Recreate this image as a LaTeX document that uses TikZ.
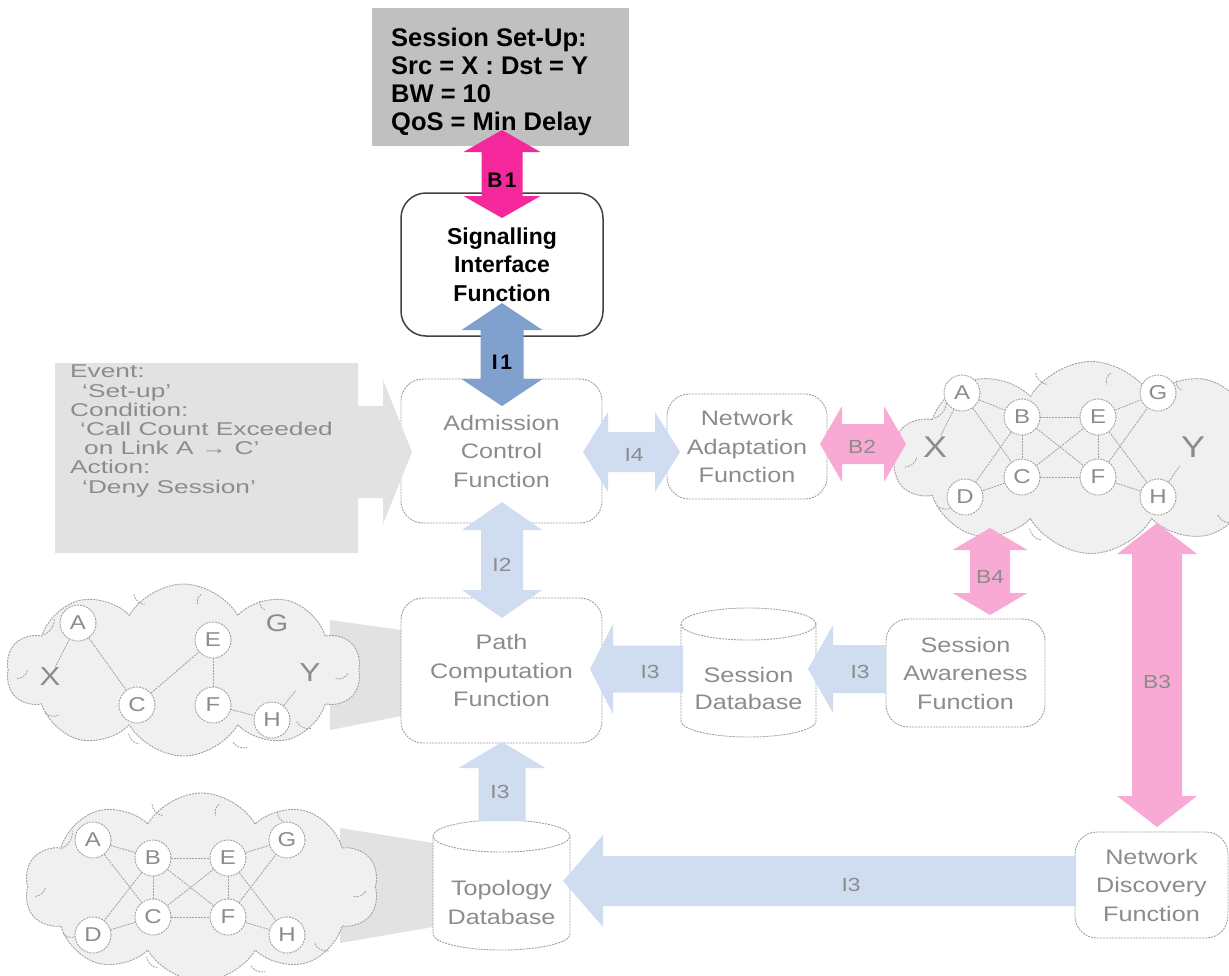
\documentclass[tikz,border=0pt]{standalone}
\usepackage{fontspec}
\setmainfont{Liberation Sans}
\newfontfamily\fadedfont{Liberation Sans}[FakeStretch=1.2]
\newfontfamily\eventfont{Liberation Sans}[FakeStretch=1.42]
\usetikzlibrary{shapes.symbols,calc}

\definecolor{hotpink}{RGB}{245,40,155}
\definecolor{palepink}{RGB}{248,170,212}
\definecolor{steel}{RGB}{128,160,205}
\definecolor{paleblue}{RGB}{208,220,240}
\definecolor{paleg}{RGB}{226,226,226}
\definecolor{cloudg}{RGB}{240,240,240}
\definecolor{fadetext}{RGB}{140,140,140}
\definecolor{fadeline}{RGB}{160,160,160}
\definecolor{boxgrey}{RGB}{192,192,192}

% block arrows (y axis points down): style, tip/end coordinates, shaft half width, head half width, head length
\newcommand\vdbl[6]{\fill[#1] (#2) -- ++({#5},{#6}) -- ++({#4-#5},0) -- ($(#3)+({#4},{-#6})$) -- ++({#5-#4},0) -- (#3) -- ++({-#5},{-#6}) -- ++({#5-#4},0) -- ($(#2)+({-#4},{#6})$) -- ++({#4-#5},0) -- cycle;}
\newcommand\hdbl[6]{\fill[#1] (#2) -- ++({#6},{-#5}) -- ++(0,{#5-#4}) -- ($(#3)+({-#6},{-#4})$) -- ++(0,{#4-#5}) -- (#3) -- ++({-#6},{#5}) -- ++(0,{#4-#5}) -- ($(#2)+({#6},{#4})$) -- ++(0,{#5-#4}) -- cycle;}
\newcommand\lsingle[6]{\fill[#1] (#2) -- ++({#6},{-#5}) -- ++(0,{#5-#4}) -- ($(#3)+(0,{-#4})$) -- ($(#3)+(0,{#4})$) -- ($(#2)+({#6},{#4})$) -- ++(0,{#5-#4}) -- cycle;}
\newcommand\usingle[6]{\fill[#1] (#2) -- ++({#5},{#6}) -- ++({#4-#5},0) -- ($(#3)+({#4},0)$) -- ($(#3)+({-#4},0)$) -- ($(#2)+({-#4},{#6})$) -- ++({#4-#5},0) -- cycle;}
% database drum: x1, x2, top, bottom, x radius
\newcommand\drum[5]{%
  \filldraw[dbline] ({#1},{#3+16}) -- ({#1},{#4-16}) .. controls ({#1},{#4-7.2}) and ({(#1+#2)/2-0.5523*#5},{#4}) .. ({(#1+#2)/2},{#4}) .. controls ({(#1+#2)/2+0.5523*#5},{#4}) and ({#2},{#4-7.2}) .. ({#2},{#4-16}) -- ({#2},{#3+16}) -- cycle;
  \filldraw[dbline] ({(#1+#2)/2},{#3+16}) ellipse [x radius=#5pt, y radius=16pt];}
% small fold strokes inside a cloud: node name, half width, half height
\newcommand\cloudfolds[3]{%
  \foreach \ax/\ay/\bx/\by in {-0.79/-0.41/-0.73/-0.60, -0.28/-0.88/-0.22/-0.76, 0.10/-0.88/0.08/-0.76,
      0.43/-0.80/0.46/-0.70, 0.86/0.10/0.93/0.04, 0.64/0.60/0.72/0.68, 0.28/0.84/0.36/0.90,
      -0.31/0.74/-0.25/0.86, -0.94/0.10/-0.88/0.0, -0.78/0.50/-0.70/0.52}
    \draw[cedge] ($(#1)+({\ax*#2},{\ay*#3})$) to[bend right=35] ($(#1)+({\bx*#2},{\by*#3})$);}

\begin{document}
\begin{tikzpicture}[x=1pt,y=-1pt,
  fline/.style={draw=fadeline, dash pattern=on 2pt off 1pt, line width=0.9pt},
  fbox/.style={rectangle, fline, rounded corners=22pt, fill=white, inner sep=0pt, align=center,
     font=\fadedfont\fontsize{21}{28.5}\selectfont, text=fadetext},
  dbline/.style={fline, fill=white},
  cloudst/.style={cloud, cloud puffs=10, cloud puff arc=120, cloud ignores aspect, fline, fill=cloudg, inner sep=0pt},
  cnode/.style={circle, fline, fill=white, minimum size=36pt, inner sep=0pt, text=fadetext,
     font=\fadedfont\fontsize{20}{20}\selectfont},
  cend/.style={text=fadetext, inner sep=1pt, font=\fadedfont\fontsize{30}{30}\selectfont},
  cedge/.style={fline, line width=0.8pt},
  flabel/.style={text=fadetext, font=\fadedfont\fontsize{19}{19}\selectfont},
  blabel/.style={font=\bfseries\fontsize{21}{21}\selectfont\addfontfeature{LetterSpace=12}},
  callout/.style={fill=paleg}]
\useasboundingbox (0,0) rectangle (1229,975);
\fill[white] (0,0) rectangle (1229,975);
\clip (0,0) rectangle (1229,975);

% ---- session request ----
\node[fill=boxgrey, minimum width=257pt, minimum height=138pt, inner sep=0pt] (req) at (500.5,77) {};
\node[anchor=north west, inner sep=0pt, align=left, font=\bfseries\fontsize{25.5}{28}\selectfont] (reqtxt) at (391,28)
  {Session Set-Up:\\Src = X : Dst = Y\\BW = 10\\QoS = Min Delay};

% ---- magnifier wedges behind the topology views ----
\fill[paleg] (330,620) -- (401,630) -- (401,716) -- (330,730) -- cycle;
\fill[paleg] (340,828) -- (433,843) -- (433,927) -- (340,943) -- cycle;

% ---- live network ----
\node[cloudst, minimum width=396pt, minimum height=192pt] (netA) at (1091,457.5) {};
\cloudfolds{netA}{198}{96}
\node[cnode] (aA) at (962,393) {A};
\node[cnode] (bA) at (1022,417) {B};
\node[cnode] (eA) at (1098,417) {E};
\node[cnode] (gA) at (1158,393) {G};
\node[cnode] (cA) at (1022,477) {C};
\node[cnode] (fA) at (1098,477) {F};
\node[cnode] (dA) at (965,497) {D};
\node[cnode] (hA) at (1158,497) {H};
\node[cend] (xA) at (935,447) {X};
\node[cend] (yA) at (1193,447) {Y};
\foreach \u/\v in {aA/xA,aA/bA,aA/cA,bA/cA,bA/eA,bA/fA,bA/dA,cA/dA,cA/eA,cA/fA,eA/fA,eA/gA,eA/hA,fA/gA,fA/hA}
  \draw[cedge] (\u) -- (\v);
\draw[cedge] (hA) -- ($(hA)!0.62!(yA)$);

% ---- computed path view ----
\node[cloudst, minimum width=354pt, minimum height=172pt] (netB) at (183.5,670) {};
\cloudfolds{netB}{177}{86}
\node[cnode] (aB) at (78,623) {A};
\node[cnode] (cB) at (137,705) {C};
\node[cnode] (eB) at (213,640) {E};
\node[cnode] (fB) at (213,705) {F};
\node[cnode] (hB) at (272,720) {H};
\node[cend, font=\fadedfont\fontsize{24}{24}\selectfont] (gB) at (277,623) {G};
\node[cend, font=\fadedfont\fontsize{26}{26}\selectfont] (xB) at (50,677) {X};
\node[cend, font=\fadedfont\fontsize{26}{26}\selectfont] (yB) at (310,673) {Y};
\foreach \u/\v in {aB/xB,aB/cB,cB/eB,eB/fB,fB/hB}
  \draw[cedge] (\u) -- (\v);
\draw[cedge] (hB) -- ($(hB)!0.62!(yB)$);

% ---- stored topology view ----
\node[cloudst, minimum width=354pt, minimum height=188pt] (netC) at (201.5,887) {};
\cloudfolds{netC}{177}{94}
\node[cnode] (aC) at (93,840) {A};
\node[cnode] (bC) at (153,858) {B};
\node[cnode] (eC) at (228,858) {E};
\node[cnode] (gC) at (287,840) {G};
\node[cnode] (cC) at (153,917) {C};
\node[cnode] (fC) at (228,917) {F};
\node[cnode] (dC) at (93,935) {D};
\node[cnode] (hC) at (287,935) {H};
\foreach \u/\v in {aC/bC,aC/cC,bC/cC,bC/eC,bC/fC,bC/dC,cC/dC,cC/eC,cC/fC,eC/fC,eC/gC,eC/hC,fC/gC,fC/hC}
  \draw[cedge] (\u) -- (\v);

% ---- function blocks ----
\node[rectangle, rounded corners=25pt, draw=black!75, line width=1.5pt, fill=white, minimum width=202pt, minimum height=143pt,
  inner sep=0pt, align=center, font=\bfseries\fontsize{23}{28.5}\selectfont] (sig) at (502,264.5) {Signalling\\Interface\\Function};
\node[fbox, minimum width=201pt, minimum height=144pt] (adm) at (501.5,451) {Admission\\Control\\Function};
\node[fbox, minimum width=160pt, minimum height=105pt] (nad) at (747,446.5) {Network\\Adaptation\\Function};
\node[fbox, minimum width=201pt, minimum height=145pt] (pcf) at (501.5,670.5) {Path\\Computation\\Function};
\node[fbox, minimum width=159pt, minimum height=108pt] (saf) at (965.5,673) {Session\\Awareness\\Function};
\node[fbox, minimum width=153pt, minimum height=106pt] (ndf) at (1151.5,885) {Network\\Discovery\\Function};

% ---- databases ----
\drum{681}{816}{608}{737}{67.5}
\node[align=center, text=fadetext, font=\fadedfont\fontsize{21}{27}\selectfont] (sdb) at (748.5,688.5) {Session\\Database};
\drum{433}{570}{820}{950}{68.5}
\node[align=center, text=fadetext, font=\fadedfont\fontsize{21}{29}\selectfont] (tdb) at (501.5,902.5) {Topology\\Database};

% ---- policy rule callout ----
\fill[callout] (55,363) -- (358,363) -- (358,406) -- (383,406) -- (383,380) -- (412,452) -- (383,524) -- (383,498) -- (358,498) -- (358,553) -- (55,553) -- cycle;
\node[anchor=north west, inner sep=0pt, align=left, text=fadetext, font=\eventfont\fontsize{18.5}{19.2}\selectfont] (rule) at (70,365)
  {Event:\\\hspace*{12pt}‘Set-up’\\Condition:\\\hspace*{10pt}‘Call Count Exceeded\\\hspace*{14pt}on Link A → C’\\Action:\\\hspace*{12pt}‘Deny Session’};

% ---- interfaces ----
\coordinate (b1t) at (502,130); \coordinate (b1b) at (502,218);
\vdbl{hotpink}{b1t}{b1b}{20.5}{38.5}{22}
\node[blabel] (lb1) at (502,180) {B1};

\coordinate (i1t) at (502,303); \coordinate (i1b) at (502,406);
\vdbl{steel}{i1t}{i1b}{21.5}{40.5}{27}
\node[blabel] (li1) at (502,362) {I1};

\coordinate (i2t) at (502,502); \coordinate (i2b) at (502,618);
\vdbl{paleblue}{i2t}{i2b}{21}{40}{28}
\node[flabel] (li2) at (502,565) {I2};

\coordinate (i4l) at (583,452); \coordinate (i4r) at (680,452);
\hdbl{paleblue}{i4l}{i4r}{20}{40}{25}
\node[flabel] (li4) at (634,455) {I4};

\coordinate (b2l) at (820,444); \coordinate (b2r) at (906,444);
\hdbl{palepink}{b2l}{b2r}{20}{38}{22}
\node[flabel] (lb2) at (862,447) {B2};

\coordinate (b4t) at (990,528); \coordinate (b4b) at (990,615);
\vdbl{palepink}{b4t}{b4b}{20}{37.5}{22}
\node[flabel] (lb4) at (990,577) {B4};

\coordinate (b3t) at (1157,523); \coordinate (b3b) at (1157,827);
\vdbl{palepink}{b3t}{b3b}{25}{40}{31}
\node[flabel] (lb3) at (1157,682) {B3};

\coordinate (i3at) at (590,669); \coordinate (i3ae) at (683,669);
\lsingle{paleblue}{i3at}{i3ae}{23.5}{45}{23}
\node[flabel] (li3a) at (650,672) {I3};

\coordinate (i3bt) at (808,669); \coordinate (i3be) at (886,669);
\lsingle{paleblue}{i3bt}{i3be}{24}{44}{25}
\node[flabel] (li3b) at (860,672) {I3};

\coordinate (i3ct) at (502,742); \coordinate (i3ce) at (502,821);
\usingle{paleblue}{i3ct}{i3ce}{23.5}{43.5}{26}
\node[flabel] (li3c) at (500,792) {I3};

\coordinate (i3dt) at (563,881); \coordinate (i3de) at (1076,881);
\lsingle{paleblue}{i3dt}{i3de}{25}{46}{40}
\node[flabel] (li3d) at (851,885) {I3};
\end{tikzpicture}
\end{document}
